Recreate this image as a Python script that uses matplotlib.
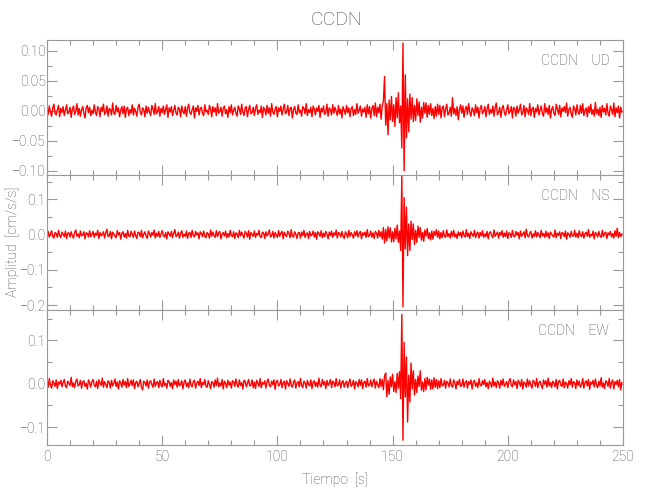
import numpy as np
import matplotlib
matplotlib.use("Agg")
import matplotlib.pyplot as plt
from matplotlib.ticker import MultipleLocator, FuncFormatter

# estacion y componentes
STATION = "CCDN"
COMPONENTS = ["UD", "NS", "EW"]
DT = 0.5  # s entre muestras

# aceleraciones, en milesimas de cm/s/s (una fila = 10 s)
ud_vals = [
    3, -6, 8, -2, -9, 5, 11, -4, -7, 2, 9, -10, 4, -3, 7, -8, 1, 10, -5, -2,
    6, -11, 3, 8, -6, -1, 12, -7, 4, -9, 2, 7, -4, -12, 5, 9, -3, 6, -8, 1,
    -5, 10, -2, -8, 7, 3, -10, 6, -1, 11, -6, -3, 8, -9, 4, 2, -7, 13, -4, -6,
    9, -2, 5, -10, 1, 7, -5, 8, -11, 3, 6, -8, 2, -4, 10, -7, 4, -1, -9, 6,
    11, -3, -7, 5, 2, -10, 8, -4, 6, -2, -8, 9, 3, -6, 12, -5, -1, 7, -9, 4,
    -3, 8, -6, 2, 10, -11, 5, -2, 7, -8, 1, 9, -4, -7, 6, 3, -10, 8, -1, -5,
    7, -9, 4, 11, -3, -6, 2, 8, -12, 5, -1, 9, -7, 3, 6, -4, -8, 10, -2, 1,
    -6, 9, 3, -10, 7, -2, 5, -8, 12, -4, -1, 6, -9, 4, 8, -5, 2, -11, 7, -3,
    10, -7, 1, 6, -4, -9, 8, 3, -6, 11, -2, -8, 5, 7, -10, 2, 9, -5, -3, 6,
    -8, 4, 10, -6, 1, -3, 8, -11, 6, 2, -7, 9, -4, 5, -9, 12, -2, -6, 3, 7,
    -10, 5, -1, 8, -7, 3, 11, -5, -2, 9, -8, 4, 6, -12, 2, 7, -4, -6, 10, -3,
    1, -9, 7, 4, -5, 12, -8, 2, -3, 6, -10, 8, 3, -7, 5, -1, 9, -11, 4, -2,
    8, -6, -3, 11, -9, 5, 2, -7, 10, -4, 6, -1, -8, 9, -5, 3, -12, 7, 1, -6,
    9, -3, 5, -10, 4, 7, -8, 2, -6, 12, -4, 1, 8, -9, 3, -2, 6, -11, 10, -5,
    7, -12, 4, 9, -8, 13, -10, 6, -3, 11, -14, 8, 16, 57, -24, 12, -40, 18, -15, 24,
    -18, 10, -26, 22, -12, 30, -20, 8, -62, 113, -100, 60, -45, 20, -35, 28, -14, 22, -18, 9,
    -16, 20, -8, 15, -19, 6, -12, 14, -4, 13, -11, 9, -6, 12, -8, 4, -13, 7, -9, 11,
    -6, 9, -12, 5, 8, -10, 3, 11, -7, -4, 6, -9, 22, -5, 4, -8, 7, -15, 2, 10,
    -4, 8, -11, 3, 7, -6, 12, -2, -9, 5, 1, -8, 10, -3, 6, -12, 4, 9, -5, -1,
    7, -10, 3, 11, -6, 2, -4, 8, -9, 5, 13, -7, -2, 6, -11, 4, 9, -3, -8, 2,
    10, -5, -1, 7, -12, 6, 3, -9, 8, -4, 2, 11, -7, -3, 9, -10, 5, 1, -6, 12,
    -8, 3, 6, -11, 4, -2, 10, -7, 1, 8, -5, -9, 12, -3, 5, -6, 9, -12, 2, 7,
    -4, -8, 11, 3, -6, 9, -10, 5, -1, 7, -3, 13, -9, 2, 6, -5, -11, 8, 4, -7,
    10, -2, -6, 9, -4, 12, -8, 1, 5, -10, 7, -3, 11, -6, 2, -9, 14, -5, 3, -8,
    6, -11, 9, -2, 4, -7, 12, -4, -9, 8, 2, -6, 13, -10, 5, -3, 8, -12, 6, -2,
]

ns_vals = [
    -4, 9, -7, 2, 11, -5, -10, 6, 3, -8, 12, -2, -9, 7, 1, -6, 10, -11, 4, 5,
    -7, 8, -3, -10, 6, 13, -5, 2, -9, 10, -4, -1, 8, -12, 5, 3, -7, 11, -6, 0,
    9, -8, 4, -2, 12, -11, 6, -4, 1, 8, -10, 5, 15, -6, -3, 9, -12, 7, 2, -5,
    -9, 11, -1, 6, -13, 4, 8, -7, 3, -10, 12, -4, -6, 9, 2, -8, 10, -3, -11, 7,
    5, -6, 12, -9, 1, 8, -4, -11, 10, 3, -7, 6, -2, 13, -10, 4, -5, 9, -8, 2,
    11, -3, -7, 6, -12, 8, 2, -5, 9, -9, 4, 14, -6, -2, 7, -10, 3, 11, -8, 1,
    -5, 10, -11, 4, 6, -8, 12, -3, -7, 9, -1, 5, -12, 8, 3, -6, 10, -4, -9, 6,
    2, -10, 13, -5, 7, -2, -8, 11, -6, 4, 9, -12, 1, 6, -4, 10, -9, 3, -7, 12,
    -3, -6, 8, -11, 5, 2, -9, 12, -4, 7, -1, -10, 9, 4, -7, 11, -13, 6, 1, -5,
    10, -8, 3, -2, 12, -6, -9, 7, 5, -11, 8, -4, 2, 13, -7, -3, 9, -10, 6, -1,
    -8, 11, -5, 4, 9, -12, 7, -2, -6, 10, 3, -9, 14, -4, -7, 8, 1, -11, 5, 6,
    -10, 7, -3, 12, -8, 2, 5, -11, 9, -4, -1, 10, -7, 6, -13, 8, 3, -5, 11, -9,
    4, -6, 9, 1, -12, 7, -3, 10, -8, 5, -2, 13, -10, 6, 3, -7, 9, -4, -11, 8,
    2, -9, 12, -5, 6, -1, -10, 8, -3, 11, -7, 4, 9, -12, 5, -2, 7, -8, 14, -6,
    -3, 10, -8, 5, -11, 9, 4, -10, 12, -6, 8, -13, 20, -24, 14, -18, 22, -10, 19, -21,
    8, -20, 18, -12, 27, -22, 10, -45, 165, -205, 105, -40, 78, -60, 30, -45, 38, -14, 30, -28,
    12, -22, 24, -8, 20, -16, 6, -19, 13, -4, 17, -11, 5, -15, 10, -13, 9, -2, 14, -8,
    10, -12, 6, -9, 11, -4, -8, 13, -6, 3, -10, 9, -5, 12, -7, 2, -11, 8, -3, 6,
    -9, 10, -2, -7, 14, -6, 4, -11, 8, 1, -5, 12, -9, 3, 7, -10, 6, -4, 11, -8,
    2, -6, 9, -12, 5, 8, -3, -9, 13, -5, 1, 7, -10, 6, -2, 11, -8, 4, -6, 10,
    -11, 5, 3, -8, 12, -4, -7, 9, -2, 6, -12, 10, -5, 1, 8, -9, 15, -3, -7, 4,
    9, -10, 2, -5, 11, -7, 6, -1, -9, 12, -4, 3, -8, 10, -6, 5, -11, 7, 2, -4,
    -7, 13, -9, 4, -2, 8, -11, 6, 3, -6, 10, -13, 5, 1, -8, 9, -3, -5, 12, -7,
    4, -9, 11, -2, -6, 8, -10, 3, 7, -5, 14, -8, 1, -4, 10, -12, 6, 2, -7, 9,
    -3, -8, 12, -6, 4, 7, -11, 5, -1, 9, -7, 3, -10, 11, -4, 18, -9, 6, -5, 2,
]

ew_vals = [
    5, -8, 12, -3, -10, 7, 2, -6, 9, -11, 4, -1, 8, -7, 3, 10, -5, -9, 6, 1,
    -4, 15, -7, 2, -9, 6, 11, -5, -2, 8, -10, 4, 7, -6, 1, -12, 9, 3, -8, 5,
    10, -3, -7, 6, -11, 9, 2, -4, 13, -8, 5, -1, -9, 7, 3, -10, 8, -5, 1, 11,
    -6, 4, -12, 7, 2, -8, 10, -3, 5, -9, 12, -6, -1, 8, -4, 9, -11, 3, 6, -7,
    1, 10, -8, -14, 6, 3, -5, 9, -10, 4, 7, -2, -8, 11, -6, 2, 5, -9, 8, -3,
    -7, 12, -4, 1, -10, 8, 5, -6, 3, -11, 9, -2, 6, -8, 10, -5, -1, 7, -12, 4,
    9, -6, 2, -9, 11, -3, -7, 5, 8, -10, 1, 6, -4, 12, -9, 3, -2, 10, -6, -8,
    7, -1, -11, 5, 3, -8, 9, -4, 13, -7, 2, -5, 10, -12, 6, 1, -9, 8, -3, 4,
    -10, 7, 5, -6, 11, -2, -8, 9, -4, 3, -12, 8, 6, -7, 1, 10, -5, -3, 9, -9,
    4, -11, 8, 2, -6, 12, -9, 3, -1, 7, -10, 5, 11, -4, -7, 6, -2, 9, -13, 5,
    8, -5, -2, 10, -9, 3, 6, -12, 7, 1, -6, 11, -3, -8, 4, 9, -10, 2, 5, -7,
    12, -4, -9, 6, 2, -10, 8, -1, -5, 9, -11, 4, 7, -6, 3, -8, 13, -3, -7, 10,
    -2, 5, -11, 8, -4, 1, 10, -9, 6, 3, -7, 12, -5, -2, 9, -10, 4, 7, -8, 2,
    6, -9, 3, 11, -6, -2, 8, -12, 5, 1, -7, 10, -4, 9, -11, 3, 6, -8, 12, -5,
    -3, 9, -7, 4, 11, -10, 6, -2, -9, 12, -6, 10, -14, 18, 25, -30, 8, -24, 16, -7,
    22, -18, 5, -20, 24, -10, 28, -34, 160, -130, 95, -30, 62, -88, 20, -42, 48, -12, 30, -26,
    10, -20, 18, -6, 30, -15, 4, -18, 12, -14, 15, -3, 11, -13, 9, -12, 14, -8, 10, -11,
    7, -9, 12, -5, -3, 8, -10, 6, 2, -7, 11, -4, -8, 9, 3, -12, 6, -2, 10, -6,
    -4, 11, -8, 3, 7, -10, 5, -1, 9, -12, 4, 8, -6, 2, -9, 12, -3, -5, 7, -2,
    10, -7, 3, -11, 6, 1, -8, 13, -5, 4, -9, 7, 2, -10, 8, -3, 11, -6, -1, 5,
    -9, 6, 12, -4, -7, 9, -2, 5, -11, 8, 3, -6, 10, -12, 4, 1, -8, 11, -5, 7,
    -3, -10, 8, 4, -6, 12, -9, 2, 6, -4, -11, 9, -1, 7, -8, 13, -5, 3, -9, 6,
    2, -7, 10, -12, 5, 8, -3, -6, 11, -9, 4, 1, -10, 7, -2, 12, -8, 5, 3, -11,
    9, -4, 6, -8, -2, 12, -10, 3, 7, -5, 10, -13, 4, -1, 8, -7, 11, -3, -9, 6,
    -5, 14, -8, 2, -11, 7, 4, -6, 12, -10, 3, 9, -12, 5, -1, 8, -7, 10, -14, 3,
]

# rango vertical de cada panel y paso de marcas (mayor, menor)
YLIMS = [(-0.107, 0.118), (-0.214, 0.169), (-0.141, 0.170)]
YSTEPS = [(0.05, 0.025), (0.1, 0.05), (0.1, 0.05)]
YDEC = [2, 1, 1]

TXT = "#484848"
AXC = "#999999"
plt.rcParams["font.family"] = ["Roboto", "DejaVu Sans"]
plt.rcParams["font.weight"] = "light"


def fmt(dec):
    def f(v, pos):
        s = f"{v:.{dec}f}"
        if float(s) == 0:
            s = f"{0:.{dec}f}"
        return s.replace("-", "\u2212")
    return f


fig = plt.figure(figsize=(6.5, 5), dpi=100)
bottoms = [0.65, 0.38, 0.11]
series = [ud_vals, ns_vals, ew_vals]

axes = []
for i, vals in enumerate(series):
    ax = fig.add_axes([0.0723, bottoms[i], 0.8862, 0.27])
    acc = np.array(vals) / 1000.0
    t = np.arange(len(acc)) * DT
    ax.plot(t, acc, color="#ff0000", lw=1.0)
    ax.set_xlim(0, 250)
    ax.set_ylim(*YLIMS[i])
    ax.xaxis.set_major_locator(MultipleLocator(50))
    ax.xaxis.set_minor_locator(MultipleLocator(10))
    ax.yaxis.set_major_locator(MultipleLocator(YSTEPS[i][0]))
    ax.yaxis.set_minor_locator(MultipleLocator(YSTEPS[i][1]))
    ax.yaxis.set_major_formatter(FuncFormatter(fmt(YDEC[i])))
    ax.tick_params(which="both", direction="in", top=True, right=True,
                   color=AXC, labelcolor=TXT, labelsize=10, width=0.8)
    ax.tick_params(which="major", length=7)
    ax.tick_params(which="minor", length=3.6)
    ax.tick_params(axis="y", pad=1)
    if i < 2:
        ax.tick_params(labelbottom=False)
    for sp in ax.spines.values():
        sp.set_color(AXC)
        sp.set_linewidth(0.8)
    ax.text(0.976, 0.845, f"{STATION}    {COMPONENTS[i]}", transform=ax.transAxes,
            ha="right", va="center", color=TXT, fontsize=10)
    axes.append(ax)

fig.text(0.517, 0.96, STATION, ha="center", va="center", color=TXT, fontsize=14)
fig.text(0.019, 0.516, "Amplitud  [cm/s/s]", rotation=90, ha="center", va="center",
         color=TXT, fontsize=10)
axes[2].set_xlabel("Tiempo  [s]", color=TXT, fontsize=10, fontweight="light", labelpad=6)

fig.savefig("out.png", dpi=100, facecolor="white")
